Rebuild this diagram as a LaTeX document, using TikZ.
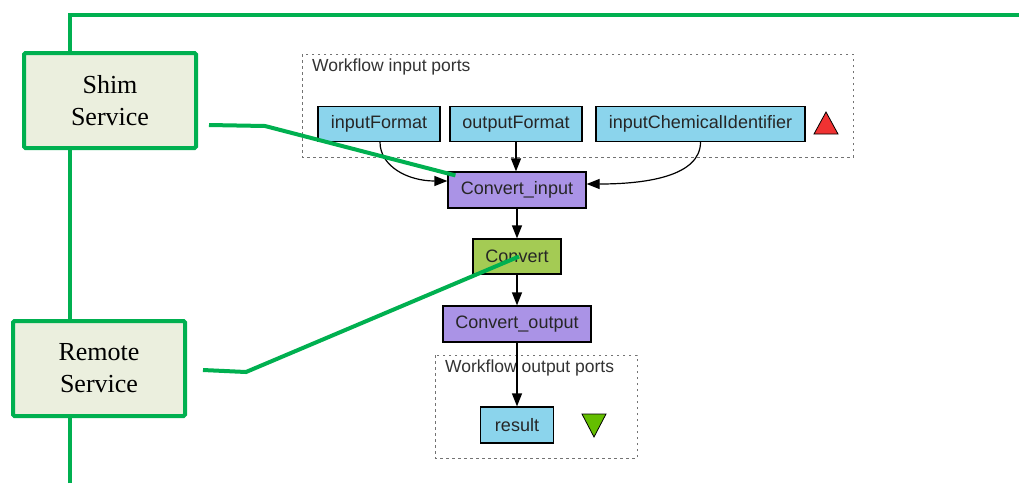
\documentclass[tikz,border=0pt]{standalone}
\usepackage{fontspec}
\setmainfont{Liberation Serif}
\newfontfamily\wffont{Liberation Sans}
\usetikzlibrary{arrows.meta,calc}
\definecolor{portblue}{RGB}{139,212,236}
\definecolor{procpurple}{RGB}{170,147,230}
\definecolor{servgreen}{RGB}{164,203,84}
\definecolor{linkgreen}{RGB}{0,176,80}
\definecolor{boxfill}{RGB}{235,239,222}
\definecolor{trired}{RGB}{240,50,50}
\definecolor{trigreen}{RGB}{100,190,0}
\tikzset{
  wfbox/.style={draw=black, line width=1.2pt, inner sep=0pt,
    font=\wffont\fontsize{18}{20}\selectfont, text=black!85},
  port/.style={wfbox, fill=portblue},
  proc/.style={wfbox, fill=procpurple},
  serv/.style={wfbox, fill=servgreen},
  group/.style={draw=black!55, line width=1pt, dash pattern=on 2.5pt off 3.5pt},
  grouplabel/.style={anchor=west, inner sep=0pt, font=\wffont\fontsize{17.5}{20}\selectfont, text=black!80},
  flow/.style={line width=1.2pt, -{Triangle[length=13pt,width=10pt]}},
  service/.style={draw=linkgreen, line width=4pt, fill=boxfill, rounded corners=1.5pt,
    minimum width=172pt, minimum height=95pt, align=center,
    font=\fontsize{26}{32}\selectfont},
  link/.style={draw=linkgreen, line width=4pt},
}
\begin{document}
\begin{tikzpicture}[x=1pt,y=-1pt]
\useasboundingbox (0,0) rectangle (1019,483);
\fill[white] (0,0) rectangle (1019,483);

% workflow input ports
\draw[group] (302,54) rectangle (853,157);
\node[grouplabel] (inlabel) at (312,67) {Workflow input ports};
\node[port, minimum width=122pt, minimum height=35pt] (inF) at (379,124) {inputFormat};
\node[port, minimum width=132pt, minimum height=35pt] (outF) at (516,124) {outputFormat};
\node[port, minimum width=209pt, minimum height=35pt] (chem) at (700.5,124) {inputChemicalIdentifier};
\fill[trired, draw=black, line width=0.8pt] (814,134) -- (838,134) -- (826,112) -- cycle;

% processors
\node[proc, minimum width=138pt, minimum height=36pt] (cin) at (517,190) {Convert\_input};
\node[serv, minimum width=88pt, minimum height=35pt] (conv) at (517,256.5) {Convert};
\node[proc, minimum width=148pt, minimum height=36pt] (cout) at (517,324) {Convert\_output};

% workflow output ports
\draw[group] (435,355) rectangle (637,458);
\node[grouplabel] (outlabel) at (445,368) {Workflow output ports};
\node[port, minimum width=73pt, minimum height=36pt] (res) at (517,425) {result};
\fill[trigreen, draw=black, line width=0.8pt] (582,414) -- (606,414) -- (594,437) -- cycle;

% data links
\draw[flow] ($(inF.south)+(1,0)$) .. controls +(0,24) and +(-40,0) .. ($(cin.west)+(0,-9)$);
\draw[flow] (outF.south) -- (outF.south |- cin.north);
\draw[flow] (chem.south) .. controls +(0,34) and +(60,0) .. ($(cin.east)+(0,-6)$);
\draw[flow] (cin.south) -- (conv.north);
\draw[flow] (conv.south) -- (cout.north);
\draw[flow] (cout.south) -- (res.north);

% service frame
\coordinate (framebot) at (70,483);
\coordinate (frametop) at (70,15);
\coordinate (frameend) at (1019,15);
\draw[link, line join=miter] (framebot) -- (frametop) -- (frameend);

\node[service] (shim) at (110,100.5) {Shim\\Service};
\node[service] (remote) at (99,368.5) {Remote\\Service};

\coordinate (shimA) at (209,125);
\coordinate (shimB) at (265,126);
\coordinate (remA) at (203,370);
\coordinate (remB) at (246,372);
\draw[link] (shimA) -- (shimB) -- ($(cin.north west)+(8,4)$);
\draw[link] (remA) -- (remB) -- ($(conv.center)+(2,0)$);
\end{tikzpicture}
\end{document}
